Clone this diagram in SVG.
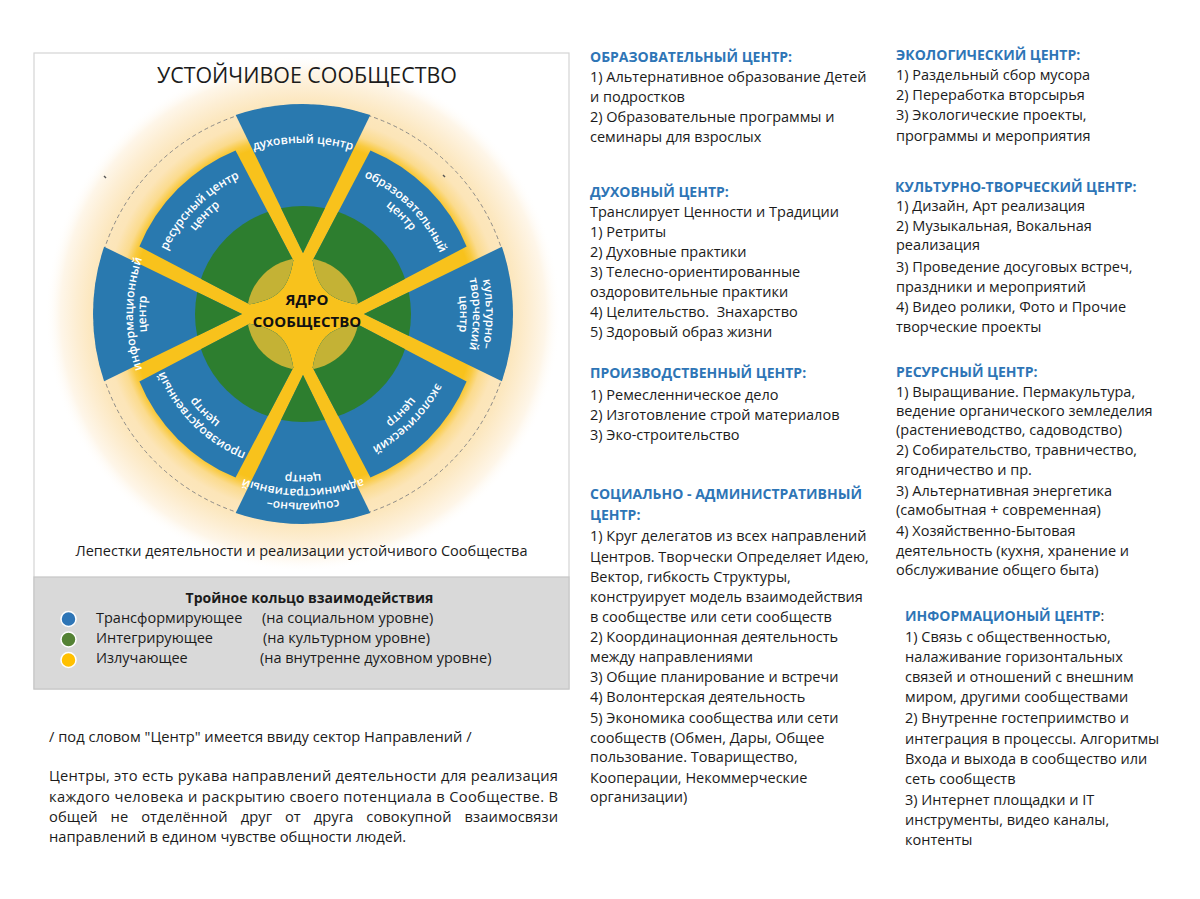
<svg xmlns="http://www.w3.org/2000/svg" xmlns:xlink="http://www.w3.org/1999/xlink" width="1200" height="899" viewBox="0 0 1200 899">
<style>
.t{font-family:"Open Sans","Noto Sans","DejaVu Sans",sans-serif;font-size:14.5px;fill:#1b1b1b}
.h{font-weight:700;fill:#2E75B6;font-size:14px}
.p{font-size:14.7px}
.lbl{font-family:"Open Sans","Noto Sans",sans-serif;font-size:12px;font-weight:600;fill:#ffffff}
.core{font-family:"Open Sans","Noto Sans",sans-serif;font-size:15px;font-weight:700;fill:#111111;text-anchor:middle}
.blue{fill:#2979AF}
.green{fill:#2D7E2F}
.olive{fill:#C4B235}
</style>
<defs>
<radialGradient id="glow" gradientUnits="userSpaceOnUse" cx="0" cy="0" r="258">
<stop offset="0" stop-color="#F8C21C"/>
<stop offset="0.665" stop-color="#F8C21C"/>
<stop offset="0.69" stop-color="#F9CA40"/>
<stop offset="0.72" stop-color="#FBDB8E"/>
<stop offset="0.77" stop-color="#FCE5B8"/>
<stop offset="0.82" stop-color="#FCE7BE"/>
<stop offset="0.88" stop-color="#FDEED3"/>
<stop offset="0.94" stop-color="#FEF6E9"/>
<stop offset="1" stop-color="#FFFFFF" stop-opacity="0"/>
</radialGradient>
<clipPath id="clipG"><circle cx="0" cy="0" r="108"/></clipPath>
<clipPath id="clipO"><circle cx="0" cy="0" r="56"/></clipPath>
<path id="vShape" d="M0,-61 L-67.3,-198.9 A210,210 0 0 1 67.3,-198.9 Z"/>
<path id="dShape" d="M67.45,-163.6 A177,177 0 0 1 163.6,-67.45 L53.4,-9.7 C24.9,-14.85 14.85,-24.9 9.7,-53.4 Z"/>
<path id="a189" d="M-177.6,-64.64 A189,189 0 0 1 177.6,-64.64"/>
<path id="a183" d="M-171.97,-62.59 A183,183 0 0 1 171.97,-62.59"/>
<path id="a175" d="M-164.45,-59.85 A175,175 0 0 1 164.45,-59.85"/>
<path id="a171" d="M-160.69,-58.48 A171,171 0 0 1 160.69,-58.48"/>
<path id="a170" d="M-159.75,-58.14 A170,170 0 0 1 159.75,-58.14"/>
<path id="a161" d="M-151.29,-55.06 A161,161 0 0 1 151.29,-55.06"/>
<path id="a157" d="M-147.53,-53.69 A157,157 0 0 1 147.53,-53.69"/>
<path id="a150" d="M-140.96,-51.3 A150,150 0 0 1 140.96,-51.3"/>
<path id="a136" d="M-127.8,-46.51 A136,136 0 0 1 127.8,-46.51"/>
</defs>

<rect x="0" y="0" width="1200" height="899" fill="#ffffff"/>

<g id="panel">
<rect x="34" y="53" width="535" height="636" fill="#ffffff" stroke="#D4D4D4" stroke-width="1.2"/>
</g>

<g id="wheel" transform="translate(303 314)">
<circle cx="0" cy="0" r="258" fill="url(#glow)"/>
<circle cx="0" cy="0" r="209" fill="none" stroke="#808080" stroke-width="0.9" stroke-dasharray="4 3"/>

<g id="sector-dukhovny">
<g><use href="#vShape" class="blue"/><use href="#vShape" class="green" clip-path="url(#clipG)"/><use href="#vShape" class="olive" clip-path="url(#clipO)"/></g>
<text class="lbl"><textPath href="#a171" startOffset="50%" text-anchor="middle">духовный центр</textPath></text>
</g>
<g id="sector-obrazovatelny">
<g><use href="#dShape" class="blue"/><use href="#dShape" class="green" clip-path="url(#clipG)"/><use href="#dShape" class="olive" clip-path="url(#clipO)"/></g>
<text class="lbl" transform="rotate(45)"><textPath href="#a150" startOffset="50%" text-anchor="middle">образовательный</textPath></text>
<text class="lbl" transform="rotate(45)"><textPath href="#a136" startOffset="50%" text-anchor="middle">центр</textPath></text>
</g>
<g id="sector-kulturny">
<g transform="rotate(90)"><use href="#vShape" class="blue"/><use href="#vShape" class="green" clip-path="url(#clipG)"/><use href="#vShape" class="olive" clip-path="url(#clipO)"/></g>
<text class="lbl" transform="rotate(90)"><textPath href="#a183" startOffset="50%" text-anchor="middle">культурно–</textPath></text>
<text class="lbl" transform="rotate(90)"><textPath href="#a170" startOffset="50%" text-anchor="middle">творческий</textPath></text>
<text class="lbl" transform="rotate(90)"><textPath href="#a157" startOffset="50%" text-anchor="middle">центр</textPath></text>
</g>
<g id="sector-ekologichesky">
<g transform="rotate(90)"><use href="#dShape" class="blue"/><use href="#dShape" class="green" clip-path="url(#clipG)"/><use href="#dShape" class="olive" clip-path="url(#clipO)"/></g>
<text class="lbl" transform="rotate(135)"><textPath href="#a150" startOffset="50%" text-anchor="middle">экологический</textPath></text>
<text class="lbl" transform="rotate(135)"><textPath href="#a136" startOffset="50%" text-anchor="middle">центр</textPath></text>
</g>
<g id="sector-socialny">
<g transform="rotate(180)"><use href="#vShape" class="blue"/><use href="#vShape" class="green" clip-path="url(#clipG)"/><use href="#vShape" class="olive" clip-path="url(#clipO)"/></g>
<text class="lbl" transform="rotate(180)"><textPath href="#a189" startOffset="50%" text-anchor="middle">социально–</textPath></text>
<text class="lbl" transform="rotate(180)"><textPath href="#a175" startOffset="50%" text-anchor="middle">административный</textPath></text>
<text class="lbl" transform="rotate(180)"><textPath href="#a161" startOffset="50%" text-anchor="middle">центр</textPath></text>
</g>
<g id="sector-proizvodstvenny">
<g transform="rotate(180)"><use href="#dShape" class="blue"/><use href="#dShape" class="green" clip-path="url(#clipG)"/><use href="#dShape" class="olive" clip-path="url(#clipO)"/></g>
<text class="lbl" transform="rotate(225)"><textPath href="#a150" startOffset="50%" text-anchor="middle">производственный</textPath></text>
<text class="lbl" transform="rotate(225)"><textPath href="#a136" startOffset="50%" text-anchor="middle">центр</textPath></text>
</g>
<g id="sector-informacionny">
<g transform="rotate(270)"><use href="#vShape" class="blue"/><use href="#vShape" class="green" clip-path="url(#clipG)"/><use href="#vShape" class="olive" clip-path="url(#clipO)"/></g>
<text class="lbl" transform="rotate(270)"><textPath href="#a170" startOffset="50%" text-anchor="middle">информационный</textPath></text>
<text class="lbl" transform="rotate(270)"><textPath href="#a157" startOffset="50%" text-anchor="middle">центр</textPath></text>
</g>
<g id="sector-resursny">
<g transform="rotate(270)"><use href="#dShape" class="blue"/><use href="#dShape" class="green" clip-path="url(#clipG)"/><use href="#dShape" class="olive" clip-path="url(#clipO)"/></g>
<text class="lbl" transform="rotate(315)"><textPath href="#a150" startOffset="50%" text-anchor="middle">ресурсный центр</textPath></text>
<text class="lbl" transform="rotate(315)"><textPath href="#a136" startOffset="50%" text-anchor="middle">центр</textPath></text>
</g>
<g id="core">
<text class="core" x="4" y="-9">ЯДРО</text>
<text class="core" x="4" y="13">СООБЩЕСТВО</text>
</g>
</g>

<g id="marks" stroke="#555555" stroke-width="1.4">
<line x1="104" y1="176" x2="106" y2="178"/>
<line x1="443" y1="175" x2="445" y2="177"/>
</g>

<g id="title">
<text class="t" x="307" y="83" text-anchor="middle" style="font-size:21.4px">УСТОЙЧИВОЕ СООБЩЕСТВО</text>
<text class="t" x="301.5" y="556" text-anchor="middle">Лепестки деятельности и реализации устойчивого Сообщества</text>
</g>

<g id="legend">
<rect x="34" y="577" width="535" height="112" fill="#D9D9D9" stroke="#C6C6C6" stroke-width="1.2"/>
<text class="t" x="309.5" y="603" text-anchor="middle" font-weight="700" style="font-size:14px">Тройное кольцо взаимодействия</text>
<circle cx="68.5" cy="619" r="7.5" fill="#2E75B6" stroke="#ffffff" stroke-width="1.5"/>
<circle cx="68.5" cy="639.5" r="7.5" fill="#548235" stroke="#ffffff" stroke-width="1.5"/>
<circle cx="68.5" cy="660" r="7.5" fill="#FFC000" stroke="#ffffff" stroke-width="1.5"/>
<text class="t" x="96" y="623">Трансформирующее</text>
<text class="t" x="262" y="623">(на социальном уровне)</text>
<text class="t" x="96" y="643">Интегрирующее</text>
<text class="t" x="263" y="643">(на культурном уровне)</text>
<text class="t" x="96" y="663">Излучающее</text>
<text class="t" x="260" y="663">(на внутренне духовном уровне)</text>
</g>

<g id="note">
<text class="t p" x="49" y="742">/ под словом "Центр" имеется ввиду сектор Направлений /</text>
<text class="t p" x="49" y="781" textLength="509" lengthAdjust="spacing">Центры, это есть рукава направлений деятельности для реализация</text>
<text class="t p" x="49" y="802" textLength="509" lengthAdjust="spacing">каждого человека и раскрытию своего потенциала в Сообществе. В</text>
<text class="t p" x="49" y="822" textLength="509" lengthAdjust="spacing" style="word-spacing:9px">общей не отделённой друг от друга совокупной взаимосвязи</text>
<text class="t p" x="49" y="842">направлений в едином чувстве общности людей.</text>
</g>

<g id="col2">
<text class="t h" x="590" y="62">ОБРАЗОВАТЕЛЬНЫЙ ЦЕНТР:</text>
<text class="t" x="590" y="82">1) Альтернативное образование Детей</text>
<text class="t" x="590" y="102">и подростков</text>
<text class="t" x="590" y="122">2) Образовательные программы и</text>
<text class="t" x="590" y="142">семинары для взрослых</text>
<text class="t h" x="590" y="197">ДУХОВНЫЙ ЦЕНТР:</text>
<text class="t" x="590" y="217">Транслирует Ценности и Традиции</text>
<text class="t" x="590" y="237">1) Ретриты</text>
<text class="t" x="590" y="257">2) Духовные практики</text>
<text class="t" x="590" y="277">3) Телесно-ориентированные</text>
<text class="t" x="590" y="297">оздоровительные практики</text>
<text class="t" x="590" y="317" xml:space="preserve">4) Целительство.  Знахарство</text>
<text class="t" x="590" y="337">5) Здоровый образ жизни</text>
<text class="t h" x="590" y="378">ПРОИЗВОДСТВЕННЫЙ ЦЕНТР:</text>
<text class="t" x="590" y="400">1) Ремесленническое дело</text>
<text class="t" x="590" y="420">2) Изготовление строй материалов</text>
<text class="t" x="590" y="440">3) Эко-строительство</text>
<text class="t h" x="590" y="499">СОЦИАЛЬНО - АДМИНИСТРАТИВНЫЙ</text>
<text class="t h" x="590" y="520">ЦЕНТР:</text>
<text class="t" x="590" y="541">1) Круг делегатов из всех направлений</text>
<text class="t" x="590" y="562">Центров. Творчески Определяет Идею,</text>
<text class="t" x="590" y="582">Вектор, гибкость Структуры,</text>
<text class="t" x="590" y="602">конструирует модель взаимодействия</text>
<text class="t" x="590" y="622">в сообществе или сети сообществ</text>
<text class="t" x="590" y="642">2) Координационная деятельность</text>
<text class="t" x="590" y="662">между направлениями</text>
<text class="t" x="590" y="682">3) Общие планирование и встречи</text>
<text class="t" x="590" y="702">4) Волонтерская деятельность</text>
<text class="t" x="590" y="723">5) Экономика сообщества или сети</text>
<text class="t" x="590" y="743">сообществ (Обмен, Дары, Общее</text>
<text class="t" x="590" y="762">пользование. Товарищество,</text>
<text class="t" x="590" y="783">Кооперации, Некоммерческие</text>
<text class="t" x="590" y="802">организации)</text>
</g>

<g id="col3">
<text class="t h" x="896" y="60">ЭКОЛОГИЧЕСКИЙ ЦЕНТР:</text>
<text class="t" x="896" y="80">1) Раздельный сбор мусора</text>
<text class="t" x="896" y="100">2) Переработка вторсырья</text>
<text class="t" x="896" y="120">3) Экологические проекты,</text>
<text class="t" x="896" y="141">программы и мероприятия</text>
<text class="t h" x="895" y="192">КУЛЬТУРНО-ТВОРЧЕСКИЙ ЦЕНТР:</text>
<text class="t" x="896" y="211">1) Дизайн, Арт реализация</text>
<text class="t" x="896" y="231">2) Музыкальная, Вокальная</text>
<text class="t" x="896" y="250">реализация</text>
<text class="t" x="896" y="272">3) Проведение досуговых встреч,</text>
<text class="t" x="896" y="292">праздники и мероприятий</text>
<text class="t" x="896" y="312">4) Видео ролики, Фото и Прочие</text>
<text class="t" x="896" y="332">творческие проекты</text>
<text class="t h" x="896" y="377">РЕСУРСНЫЙ ЦЕНТР:</text>
<text class="t" x="896" y="397">1) Выращивание. Пермакультура,</text>
<text class="t" x="896" y="416">ведение органического земледелия</text>
<text class="t" x="896" y="435">(растениеводство, садоводство)</text>
<text class="t" x="896" y="455">2) Собирательство, травничество,</text>
<text class="t" x="896" y="475">ягодничество и пр.</text>
<text class="t" x="896" y="496">3) Альтернативная энергетика</text>
<text class="t" x="896" y="515">(самобытная + современная)</text>
<text class="t" x="896" y="536">4) Хозяйственно-Бытовая</text>
<text class="t" x="896" y="556">деятельность (кухня, хранение и</text>
<text class="t" x="896" y="575">обслуживание общего быта)</text>
<text class="t" x="905" y="621"><tspan class="h">ИНФОРМАЦИОНЫЙ ЦЕНТР</tspan>:</text>
<text class="t" x="905" y="642">1) Связь с общественностью,</text>
<text class="t" x="905" y="662">налаживание горизонтальных</text>
<text class="t" x="905" y="682">связей и отношений с внешним</text>
<text class="t" x="905" y="702">миром, другими сообществами</text>
<text class="t" x="905" y="723">2) Внутренне гостеприимство и</text>
<text class="t" x="905" y="744">интеграция в процессы. Алгоритмы</text>
<text class="t" x="905" y="764">Входа и выхода в сообщество или</text>
<text class="t" x="905" y="784">сеть сообществ</text>
<text class="t" x="905" y="805">3) Интернет площадки и IT</text>
<text class="t" x="905" y="825">инструменты, видео каналы,</text>
<text class="t" x="905" y="845">контенты</text>
</g>
</svg>
